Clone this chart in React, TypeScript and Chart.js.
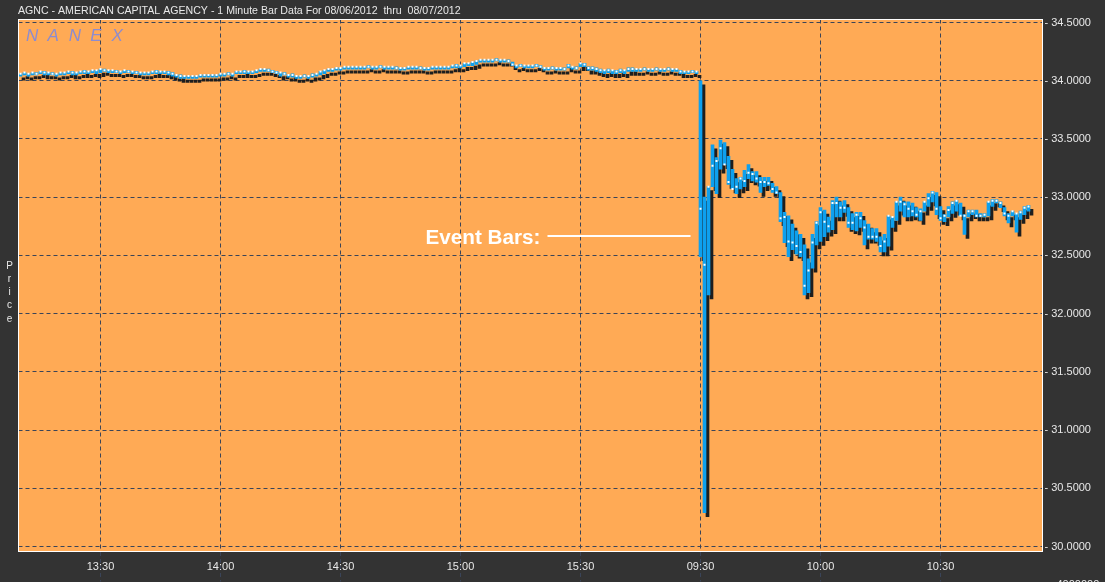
import { useEffect, useRef } from 'react';
import { Chart, registerables } from 'chart.js';

Chart.register(...registerables);

// ---------- text ----------
const TITLE = 'AGNC - AMERICAN CAPITAL AGENCY - 1 Minute Bar Data For 08/06/2012  thru  08/07/2012';
const WATERMARK = 'NANEX';
const Y_AXIS_TITLE = 'Price';
const EVENT_LABEL = 'Event Bars:';
const VOLUME_LABEL = '4000000';

// ---------- categories (one per minute) ----------
const SESSION_1_START = '13:10';
const SESSION_1_MINUTES = 170;
const SESSION_2_START = '09:30';
const SESSION_2_MINUTES = 86;
const EVENT_START = '09:30';
const EVENT_PRICE = 32.667;

const X_TICK_LABELS = ['13:30', '14:00', '14:30', '15:00', '15:30', '09:30', '10:00', '10:30'];
const Y_TICKS = [30, 30.5, 31, 31.5, 32, 32.5, 33, 33.5, 34, 34.5];
const Y_MIN = 29.957;
const Y_MAX = 34.526;

// ---------- 08/06/2012 13:10 - 15:59 ----------
const DAY1_HIGH = [
  34.06, 34.07, 34.06, 34.07, 34.07, 34.08, 34.08, 34.07, 34.07, 34.06,
  34.07, 34.07, 34.08, 34.08, 34.07, 34.08, 34.09, 34.08, 34.09, 34.09,
  34.10, 34.10, 34.09, 34.09, 34.09, 34.08, 34.09, 34.09, 34.08, 34.08,
  34.07, 34.07, 34.07, 34.08, 34.09, 34.08, 34.08, 34.08, 34.07, 34.05,
  34.05, 34.04, 34.04, 34.04, 34.04, 34.05, 34.05, 34.05, 34.05, 34.05,
  34.06, 34.06, 34.07, 34.06, 34.08, 34.08, 34.09, 34.08, 34.08, 34.09,
  34.10, 34.10, 34.10, 34.09, 34.08, 34.07, 34.07, 34.05, 34.06, 34.04,
  34.04, 34.05, 34.04, 34.06, 34.06, 34.08, 34.09, 34.10, 34.10, 34.11,
  34.11, 34.12, 34.12, 34.12, 34.12, 34.12, 34.12, 34.13, 34.12, 34.12,
  34.13, 34.12, 34.12, 34.12, 34.12, 34.11, 34.11, 34.12, 34.12, 34.12,
  34.12, 34.11, 34.11, 34.12, 34.12, 34.12, 34.12, 34.12, 34.13, 34.14,
  34.13, 34.15, 34.15, 34.16, 34.17, 34.18, 34.18, 34.18, 34.18, 34.19,
  34.18, 34.18, 34.18, 34.16, 34.13, 34.14, 34.13, 34.13, 34.13, 34.14,
  34.13, 34.11, 34.11, 34.12, 34.11, 34.11, 34.11, 34.14, 34.12, 34.12,
  34.15, 34.15, 34.12, 34.12, 34.11, 34.10, 34.09, 34.10, 34.09, 34.09,
  34.10, 34.09, 34.11, 34.11, 34.10, 34.10, 34.11, 34.10, 34.10, 34.11,
  34.10, 34.10, 34.11, 34.10, 34.10, 34.09, 34.08, 34.08, 34.09, 34.08,
];
const DAY1_LOW = [
  34.04, 34.05, 34.04, 34.05, 34.05, 34.06, 34.05, 34.05, 34.05, 34.04,
  34.05, 34.05, 34.06, 34.05, 34.05, 34.06, 34.06, 34.06, 34.07, 34.06,
  34.07, 34.08, 34.07, 34.07, 34.07, 34.06, 34.07, 34.07, 34.06, 34.06,
  34.05, 34.05, 34.05, 34.06, 34.06, 34.06, 34.06, 34.05, 34.04, 34.03,
  34.02, 34.02, 34.02, 34.02, 34.02, 34.03, 34.03, 34.03, 34.03, 34.03,
  34.04, 34.04, 34.05, 34.04, 34.06, 34.06, 34.06, 34.06, 34.06, 34.07,
  34.08, 34.08, 34.08, 34.07, 34.06, 34.04, 34.05, 34.03, 34.03, 34.02,
  34.02, 34.03, 34.02, 34.03, 34.04, 34.05, 34.06, 34.08, 34.08, 34.09,
  34.09, 34.10, 34.10, 34.10, 34.10, 34.10, 34.10, 34.11, 34.10, 34.10,
  34.11, 34.10, 34.10, 34.10, 34.10, 34.09, 34.09, 34.10, 34.10, 34.10,
  34.10, 34.09, 34.09, 34.10, 34.10, 34.10, 34.10, 34.10, 34.11, 34.11,
  34.11, 34.12, 34.13, 34.13, 34.14, 34.16, 34.16, 34.16, 34.16, 34.17,
  34.16, 34.16, 34.16, 34.13, 34.11, 34.12, 34.11, 34.11, 34.11, 34.12,
  34.11, 34.09, 34.09, 34.10, 34.09, 34.09, 34.09, 34.11, 34.10, 34.10,
  34.12, 34.12, 34.09, 34.09, 34.08, 34.07, 34.06, 34.07, 34.06, 34.06,
  34.07, 34.06, 34.08, 34.08, 34.08, 34.08, 34.09, 34.08, 34.08, 34.09,
  34.08, 34.08, 34.09, 34.08, 34.08, 34.06, 34.06, 34.06, 34.07, 34.06,
];
const DAY1_CLOSE = [
  34.06, 34.07, 34.06, 34.07, 34.06, 34.08, 34.07, 34.07, 34.06, 34.06,
  34.07, 34.07, 34.08, 34.07, 34.07, 34.08, 34.08, 34.08, 34.09, 34.09,
  34.10, 34.09, 34.09, 34.09, 34.08, 34.08, 34.09, 34.08, 34.08, 34.07,
  34.07, 34.07, 34.07, 34.08, 34.08, 34.08, 34.08, 34.07, 34.06, 34.05,
  34.04, 34.04, 34.04, 34.04, 34.04, 34.05, 34.05, 34.05, 34.05, 34.05,
  34.06, 34.06, 34.06, 34.06, 34.08, 34.08, 34.08, 34.08, 34.08, 34.09,
  34.10, 34.10, 34.09, 34.08, 34.07, 34.07, 34.06, 34.05, 34.05, 34.04,
  34.04, 34.04, 34.04, 34.05, 34.06, 34.08, 34.09, 34.10, 34.10, 34.11,
  34.11, 34.12, 34.12, 34.12, 34.12, 34.12, 34.12, 34.12, 34.12, 34.12,
  34.12, 34.12, 34.12, 34.12, 34.11, 34.11, 34.11, 34.12, 34.12, 34.12,
  34.11, 34.11, 34.11, 34.12, 34.12, 34.12, 34.12, 34.12, 34.13, 34.13,
  34.13, 34.15, 34.15, 34.16, 34.17, 34.18, 34.18, 34.18, 34.18, 34.18,
  34.18, 34.18, 34.17, 34.14, 34.13, 34.13, 34.13, 34.13, 34.13, 34.13,
  34.12, 34.11, 34.11, 34.11, 34.11, 34.11, 34.10, 34.13, 34.12, 34.11,
  34.15, 34.14, 34.11, 34.11, 34.10, 34.09, 34.09, 34.09, 34.09, 34.08,
  34.09, 34.09, 34.10, 34.10, 34.10, 34.10, 34.10, 34.10, 34.10, 34.10,
  34.10, 34.10, 34.10, 34.10, 34.10, 34.08, 34.08, 34.08, 34.08, 34.08,
];

// ---------- 08/07/2012 09:30 - 10:52 ----------
const DAY2_HIGH = [
  34.00, 33.00, 33.09, 33.45, 33.34, 33.49, 33.47, 33.35, 33.24, 33.16,
  33.17, 33.23, 33.28, 33.22, 33.22, 33.17, 33.17, 33.17, 33.12, 33.09,
  33.04, 32.87, 32.84, 32.77, 32.71, 32.68, 32.59, 32.47, 32.68, 32.79,
  32.91, 32.89, 32.83, 32.97, 33.00, 32.96, 32.97, 32.91, 32.86, 32.87,
  32.87, 32.80, 32.77, 32.73, 32.73, 32.66, 32.68, 32.84, 32.83, 32.96,
  33.00, 32.96, 32.96, 32.95, 32.91, 32.90, 32.96, 33.03, 33.05, 33.04,
  32.92, 32.85, 32.92, 32.96, 32.97, 32.95, 32.85, 32.89, 32.89, 32.89,
  32.86, 32.86, 32.96, 32.98, 32.98, 32.96, 32.91, 32.86, 32.88, 32.86,
  32.88, 32.92, 32.93,
];
const DAY2_LOW = [
  32.49, 30.29, 32.16, 33.09, 33.03, 33.24, 33.28, 33.11, 33.07, 33.03,
  33.07, 33.09, 33.16, 33.14, 33.13, 33.04, 33.09, 33.10, 33.04, 33.03,
  32.79, 32.61, 32.49, 32.55, 32.51, 32.49, 32.16, 32.18, 32.39, 32.59,
  32.62, 32.66, 32.70, 32.72, 32.83, 32.83, 32.87, 32.74, 32.72, 32.71,
  32.74, 32.59, 32.64, 32.64, 32.62, 32.53, 32.53, 32.58, 32.74, 32.80,
  32.88, 32.83, 32.83, 32.84, 32.83, 32.80, 32.88, 32.92, 32.96, 32.85,
  32.80, 32.79, 32.83, 32.86, 32.88, 32.84, 32.68, 32.83, 32.85, 32.83,
  32.83, 32.83, 32.84, 32.92, 32.95, 32.91, 32.84, 32.78, 32.84, 32.70,
  32.81, 32.85, 32.88,
];
const DAY2_CLOSE = [
  32.90, 32.42, 33.09, 33.27, 33.31, 33.42, 33.28, 33.13, 33.07, 33.09,
  33.16, 33.14, 33.21, 33.20, 33.16, 33.13, 33.13, 33.12, 33.07, 33.04,
  32.82, 32.83, 32.62, 32.61, 32.58, 32.53, 32.24, 32.37, 32.61, 32.78,
  32.87, 32.79, 32.75, 32.95, 32.95, 32.91, 32.91, 32.78, 32.78, 32.85,
  32.82, 32.74, 32.66, 32.66, 32.66, 32.58, 32.62, 32.84, 32.83, 32.96,
  32.96, 32.94, 32.90, 32.88, 32.85, 32.88, 32.96, 32.99, 33.04, 32.90,
  32.82, 32.84, 32.89, 32.95, 32.97, 32.84, 32.84, 32.88, 32.88, 32.84,
  32.84, 32.85, 32.96, 32.97, 32.97, 32.95, 32.86, 32.84, 32.88, 32.86,
  32.87, 32.91, 32.92,
];

// ---------- styles ----------
const PAGE_BG = '#333333';
const PLOT_BG = '#FFAA55';
const BAR_BLUE = '#0EA0EE';
const SHADOW = '#1E1E1E';
const GRID = '#3A4458';
const TEXT = '#E8E8E8';
const FONT = '"Liberation Sans", Arial, sans-serif';
const W = 1105;
const H = 582;

function minuteLabels(start: string, count: number): string[] {
  const [h, m] = start.split(':').map(Number);
  const out: string[] = [];
  for (let k = 0; k < count; k++) {
    const t = h * 60 + m + k;
    out.push(String(Math.floor(t / 60)).padStart(2, '0') + ':' + String(t % 60).padStart(2, '0'));
  }
  return out;
}

const CATEGORIES = [
  ...minuteLabels(SESSION_1_START, SESSION_1_MINUTES),
  ...minuteLabels(SESSION_2_START, SESSION_2_MINUTES),
];
const HIGH = [...DAY1_HIGH, ...DAY2_HIGH];
const LOW = [...DAY1_LOW, ...DAY2_LOW];
const CLOSE = [...DAY1_CLOSE, ...DAY2_CLOSE];

const barShadow = {
  id: 'barShadow',
  beforeDatasetDraw(chart: any, args: any) {
    if (args.meta.type !== 'bar') return;
    const c = chart.ctx;
    c.save();
    c.shadowColor = SHADOW;
    c.shadowOffsetX = 3;
    c.shadowOffsetY = 4;
    c.shadowBlur = 0;
  },
  afterDatasetDraw(chart: any, args: any) {
    if (args.meta.type !== 'bar') return;
    chart.ctx.restore();
  },
};

const decor = {
  id: 'decor',
  beforeDraw(chart: any) {
    const { ctx, chartArea: a } = chart;
    ctx.save();
    ctx.fillStyle = PAGE_BG;
    ctx.fillRect(0, 0, chart.width, chart.height);
    ctx.fillStyle = PLOT_BG;
    ctx.fillRect(a.left, a.top, a.right - a.left, a.bottom - a.top);
    ctx.restore();
  },
  afterDatasetsDraw(chart: any) {
    const { ctx, chartArea: a } = chart;
    ctx.save();
    ctx.strokeStyle = '#FFFFFF';
    ctx.lineWidth = 1;
    ctx.strokeRect(a.left, a.top, a.right - a.left, a.bottom - a.top);
    ctx.restore();
  },
  afterDraw(chart: any) {
    const { ctx, chartArea: a, scales } = chart;
    ctx.save();
    // title
    ctx.fillStyle = TEXT;
    ctx.font = '10.6px ' + FONT;
    ctx.textBaseline = 'alphabetic';
    ctx.textAlign = 'left';
    ctx.fillText(TITLE, a.left - 0.5, 13.5);
    // watermark
    ctx.fillStyle = '#8C8CD0';
    ctx.font = 'italic 17px ' + FONT;
    for (let k = 0; k < WATERMARK.length; k++) {
      ctx.fillText(WATERMARK[k], a.left + 7.5 + k * 21.4, a.top + 21.5);
    }
    // vertical "Price"
    ctx.fillStyle = TEXT;
    ctx.font = '10px ' + FONT;
    ctx.textAlign = 'center';
    for (let k = 0; k < Y_AXIS_TITLE.length; k++) {
      ctx.fillText(Y_AXIS_TITLE[k], 9.5, 268.5 + k * 13.3);
    }
    // partially visible lower axis label
    ctx.textAlign = 'left';
    ctx.font = '11px ' + FONT;
    ctx.fillText(VOLUME_LABEL, a.right + 14, 587.5);
    // event annotation
    const x = scales.x;
    const y = scales.y;
    const evIdx = CATEGORIES.indexOf(EVENT_START);
    const lineEnd = x.getPixelForValue(evIdx) - 10;
    const lineStart = lineEnd - 143;
    const ly = Math.round(y.getPixelForValue(EVENT_PRICE));
    ctx.fillStyle = '#FFFFFF';
    ctx.fillRect(lineStart, ly - 1, lineEnd - lineStart, 2);
    ctx.font = 'bold 20.7px ' + FONT;
    ctx.textAlign = 'right';
    ctx.textBaseline = 'alphabetic';
    ctx.fillText(EVENT_LABEL, lineStart - 7, ly + 7.5);
    ctx.restore();
  },
};

export default function App() {
  const ref = useRef<HTMLCanvasElement | null>(null);

  useEffect(() => {
    const canvas = ref.current;
    if (!canvas) return;
    const barData = CATEGORIES.map((_, i) => (i < HIGH.length ? [LOW[i], HIGH[i]] : null));
    const closeData = CATEGORIES.map((_, i) => (i < CLOSE.length ? CLOSE[i] : null));

    const chart = new Chart(canvas, {
      type: 'bar',
      data: {
        labels: CATEGORIES,
        datasets: [
          {
            type: 'line',
            label: 'Close',
            data: closeData as any,
            showLine: false,
            pointStyle: 'rect',
            pointRadius: 1.42,
            pointHoverRadius: 0,
            pointBorderWidth: 0,
            pointBackgroundColor: '#FFFFFF',
            order: 0,
          } as any,
          {
            type: 'bar',
            label: 'Range',
            data: barData as any,
            backgroundColor: BAR_BLUE,
            borderWidth: 0,
            barThickness: 3,
            minBarLength: 2,
            order: 1,
          } as any,
        ],
      },
      options: {
        responsive: false,
        animation: false,
        devicePixelRatio: 1,
        events: [],
        layout: { padding: { left: 18.5, top: 19.5, right: 0, bottom: 0 } },
        plugins: {
          legend: { display: false },
          tooltip: { enabled: false },
          title: { display: false },
        },
        scales: {
          x: {
            type: 'category',
            offset: true,
            afterBuildTicks: (s: any) => {
              s.ticks = s.ticks.filter((t: any) => X_TICK_LABELS.includes(CATEGORIES[t.value]));
            },
            afterFit: (s: any) => {
              s.height = 30.5;
            },
            grid: {
              offset: false,
              color: GRID,
              lineWidth: 1,
              drawTicks: true,
              tickLength: 30,
              tickColor: GRID,
              tickBorderDash: [4, 3],
              borderDash: [4, 3],
            } as any,
            border: { display: false, dash: [4, 3] },
            ticks: {
              autoSkip: false,
              maxRotation: 0,
              minRotation: 0,
              color: TEXT,
              font: { family: FONT, size: 11 },
              padding: -21,
            },
          },
          y: {
            type: 'linear',
            position: 'right',
            min: Y_MIN,
            max: Y_MAX,
            afterBuildTicks: (s: any) => {
              s.ticks = Y_TICKS.map((v) => ({ value: v }));
            },
            afterFit: (s: any) => {
              s.width = W - 1042.5;
            },
            grid: {
              color: GRID,
              lineWidth: 1,
              drawTicks: false,
              borderDash: [4, 3],
            } as any,
            border: { display: false, dash: [4, 3] },
            ticks: {
              color: TEXT,
              font: { family: FONT, size: 11 },
              padding: 2,
              callback: (v: any) => '- ' + Number(v).toFixed(4),
            },
          },
        },
      },
      plugins: [barShadow, decor],
    });
    return () => chart.destroy();
  }, []);

  return (
    <div style={{ position: 'fixed', left: 0, top: 0, width: W, height: H, background: PAGE_BG }}>
      <canvas ref={ref} width={W} height={H} style={{ width: W, height: H, display: 'block' }} />
    </div>
  );
}
